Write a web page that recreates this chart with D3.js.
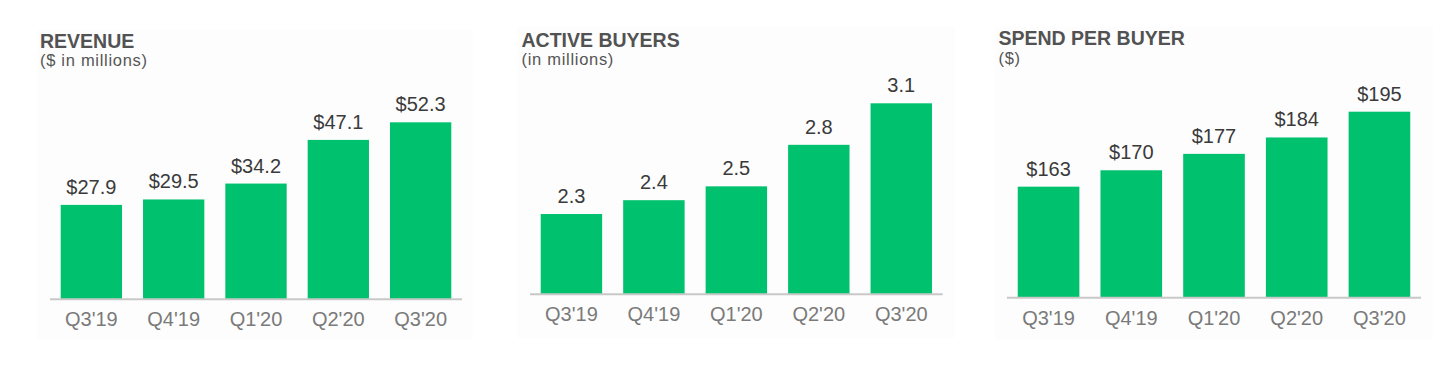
<!DOCTYPE html>
<html>
<head>
<meta charset="utf-8">
<script src="https://cdn.jsdelivr.net/npm/d3@7"></script>
<style>
  html, body { margin: 0; padding: 0; background: #fff; }
  svg { display: block; font-family: "Liberation Sans", Arial, sans-serif; }
</style>
</head>
<body>
<svg id="chart" width="1456" height="365"></svg>
<script>
// ---- data ----
const categories = ["Q3'19", "Q4'19", "Q1'20", "Q2'20", "Q3'20"];
const revenue = [27.9, 29.5, 34.2, 47.1, 52.3];
const activeBuyers = [2.3, 2.4, 2.5, 2.8, 3.1];
const spendPerBuyer = [163, 170, 177, 184, 195];
const titles = ["REVENUE", "ACTIVE BUYERS", "SPEND PER BUYER"];
const subtitles = ["($ in millions)", "(in millions)", "($)"];

// ---- layout ----
const panels = [
  { values: revenue, fmt: d => "$" + d.toFixed(1), x0: 50, x1: 462, base: 299.3, top: 122.3, dmin: 0,
    tx: 40, ty: 47.5, sy: 66, bg: [37, 30, 473, 340] },
  { values: activeBuyers, fmt: d => d.toFixed(1), x0: 530, x1: 942.7, base: 294.3, top: 103.3, dmin: 1.72,
    tx: 521.5, ty: 47, sy: 65, bg: [517, 27, 955, 338] },
  { values: spendPerBuyer, fmt: d => "$" + d, x0: 1007, x1: 1421, base: 297.7, top: 111.7, dmin: 115.6,
    tx: 998.5, ty: 44.5, sy: 64, bg: [995, 27, 1433, 340] }
];

const svg = d3.select("#chart");
const green = "#00c26e";

panels.forEach((p, i) => {
  const g = svg.append("g");

  g.append("rect")
    .attr("x", p.bg[0]).attr("y", p.bg[1])
    .attr("width", p.bg[2] - p.bg[0]).attr("height", p.bg[3] - p.bg[1])
    .attr("fill", "#fdfdfd");

  const x = d3.scaleBand().domain(categories).range([p.x0, p.x1])
    .paddingInner(0.255).paddingOuter(0.13);
  const y = d3.scaleLinear().domain([p.dmin, d3.max(p.values)]).range([p.base, p.top]);

  const data = categories.map((c, k) => ({ c, v: p.values[k] }));

  g.selectAll("rect.bar").data(data).join("rect")
    .attr("class", "bar")
    .attr("x", d => x(d.c))
    .attr("width", x.bandwidth())
    .attr("y", d => y(d.v))
    .attr("height", d => y(p.dmin) - y(d.v))
    .attr("fill", green);

  g.selectAll("text.val").data(data).join("text")
    .attr("class", "val")
    .attr("x", d => x(d.c) + x.bandwidth() / 2)
    .attr("y", d => y(d.v) - 11)
    .attr("text-anchor", "middle")
    .attr("font-size", 20)
    .attr("fill", "#3a3a3a")
    .text(d => p.fmt(d.v));

  const axis = d3.axisBottom(x).tickSize(0).tickPadding(13);
  const ag = g.append("g").attr("transform", `translate(0,${p.base})`).call(axis);
  ag.select(".domain").attr("stroke", "#c8c8c8").attr("stroke-width", 2)
    .attr("d", `M${p.x0},0H${p.x1}`);
  ag.selectAll(".tick text")
    .attr("font-size", 20)
    .attr("fill", "#7a7a7a")
    .attr("font-family", "'Liberation Sans', Arial, sans-serif")
    .attr("dy", "0.71em");

  g.append("text")
    .attr("x", p.tx).attr("y", p.ty)
    .attr("font-size", 19.5).attr("font-weight", "bold")
    .attr("fill", "#525252")
    .text(titles[i]);

  g.append("text")
    .attr("x", p.tx).attr("y", p.sy)
    .attr("font-size", 16.5)
    .attr("letter-spacing", 0.7)
    .attr("fill", "#555")
    .text(subtitles[i]);
});
</script>
</body>
</html>
